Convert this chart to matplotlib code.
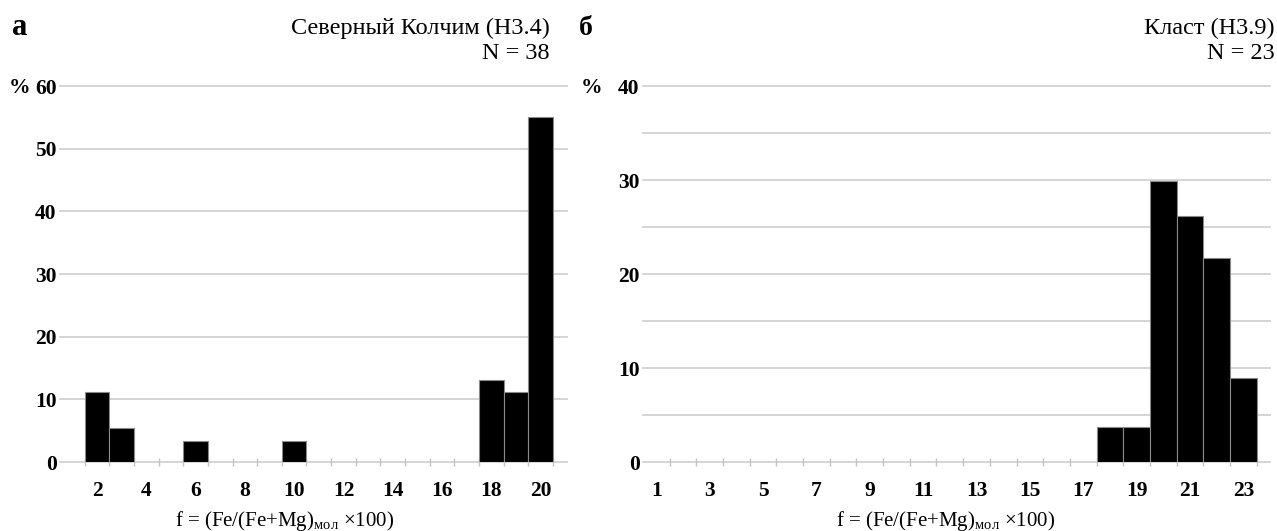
import numpy as np
import matplotlib
matplotlib.use("Agg")
import matplotlib.pyplot as plt

plt.rcParams['font.family'] = ['Liberation Serif', 'DejaVu Serif']
plt.rcParams['mathtext.fontset'] = 'custom'
plt.rcParams['mathtext.rm'] = 'Liberation Serif'

#%% data
a_cats = [2, 3, 6, 10, 18, 19, 20]
a_vals = [11.1, 5.5, 3.4, 3.4, 13.1, 11.1, 55.0]
a_xticks = [2, 4, 6, 8, 10, 12, 14, 16, 18, 20]
a_yticks = [0, 10, 20, 30, 40, 50, 60]

b_cats = [18, 19, 20, 21, 22, 23]
b_vals = [3.7, 3.7, 29.9, 26.2, 21.7, 8.9]
b_xticks = [1, 3, 5, 7, 9, 11, 13, 15, 17, 19, 21, 23]
b_yticks = [0, 10, 20, 30, 40]
b_ygrid = [0, 5, 10, 15, 20, 25, 30, 35, 40]

xlabel = r'f = (Fe/(Fe+Mg)$_{\mathrm{мол}}$ ×100)'

W, H = 1277, 531
fig = plt.figure(figsize=(W / 100, H / 100), dpi=100)

GRID = '#d2d2d2'


def px_axes(x0, x1, ytop, ybot):
    return fig.add_axes([x0 / W, 1 - ybot / H, (x1 - x0) / W, (ybot - ytop) / H])


def style(ax, xmax, nmax, ymax, yticks, ygrid):
    ax.set_xlim(0.5, xmax)
    ax.set_ylim(0, ymax)
    for s in ax.spines.values():
        s.set_visible(False)
    ax.set_yticks(yticks)
    for g in ygrid:
        ax.axhline(g, color=GRID, lw=1.3, clip_on=False, zorder=0)
    ax.set_xticks(np.arange(1.5, nmax + 1, 1.0), minor=True)
    ax.tick_params(axis='x', which='major', length=0, pad=14)
    ax.tick_params(axis='x', which='minor', direction='inout', length=6,
                   width=1, color='#c4c4c4')
    ax.tick_params(axis='y', which='both', length=0, pad=2.5)
    for lab in ax.get_xticklabels() + ax.get_yticklabels():
        lab.set_fontweight('bold')
        lab.set_fontsize(15.5)


#%% panel a
ax1 = px_axes(60, 567, 86, 462)
ax1.bar(a_cats, a_vals, width=1.0, color='black', edgecolor='#8a8a8a', lw=0.8, zorder=2)
ax1.set_xticks(a_xticks)
style(ax1, 21.07, 20, 60, a_yticks, a_yticks)

#%% panel b
ax2 = px_axes(643, 1270, 86, 462)
ax2.bar(b_cats, b_vals, width=1.0, color='black', edgecolor='#8a8a8a', lw=0.8, zorder=2)
ax2.set_xticks(b_xticks)
style(ax2, 24.0, 23, 40, b_yticks, b_ygrid)

#%% texts
fig.text(175 / W, 1 - 526 / H, xlabel, ha='left', va='baseline', fontsize=15)
fig.text(836 / W, 1 - 526 / H, xlabel, ha='left', va='baseline', fontsize=15)

fig.text(12 / W, 1 - 35 / H, 'а', fontsize=22, fontweight='bold', va='baseline')
fig.text(586 / W, 1 - 35 / H, 'б', fontsize=20, fontweight='bold', va='baseline', ha='center')

fig.text(550 / W, 1 - 34 / H, 'Северный Колчим (Н3.4)', ha='right', va='baseline', fontsize=17.5)
fig.text(550 / W, 1 - 59 / H, 'N = 38', ha='right', va='baseline', fontsize=17.5)
fig.text(1275 / W, 1 - 34 / H, 'Класт (Н3.9)', ha='right', va='baseline', fontsize=17.5)
fig.text(1275 / W, 1 - 59 / H, 'N = 23', ha='right', va='baseline', fontsize=17.5)

fig.text(9 / W, 1 - 88 / H, '%', fontsize=15.5, fontweight='bold', va='center')
fig.text(581 / W, 1 - 88 / H, '%', fontsize=15.5, fontweight='bold', va='center')

fig.savefig('out.png', dpi=100)
